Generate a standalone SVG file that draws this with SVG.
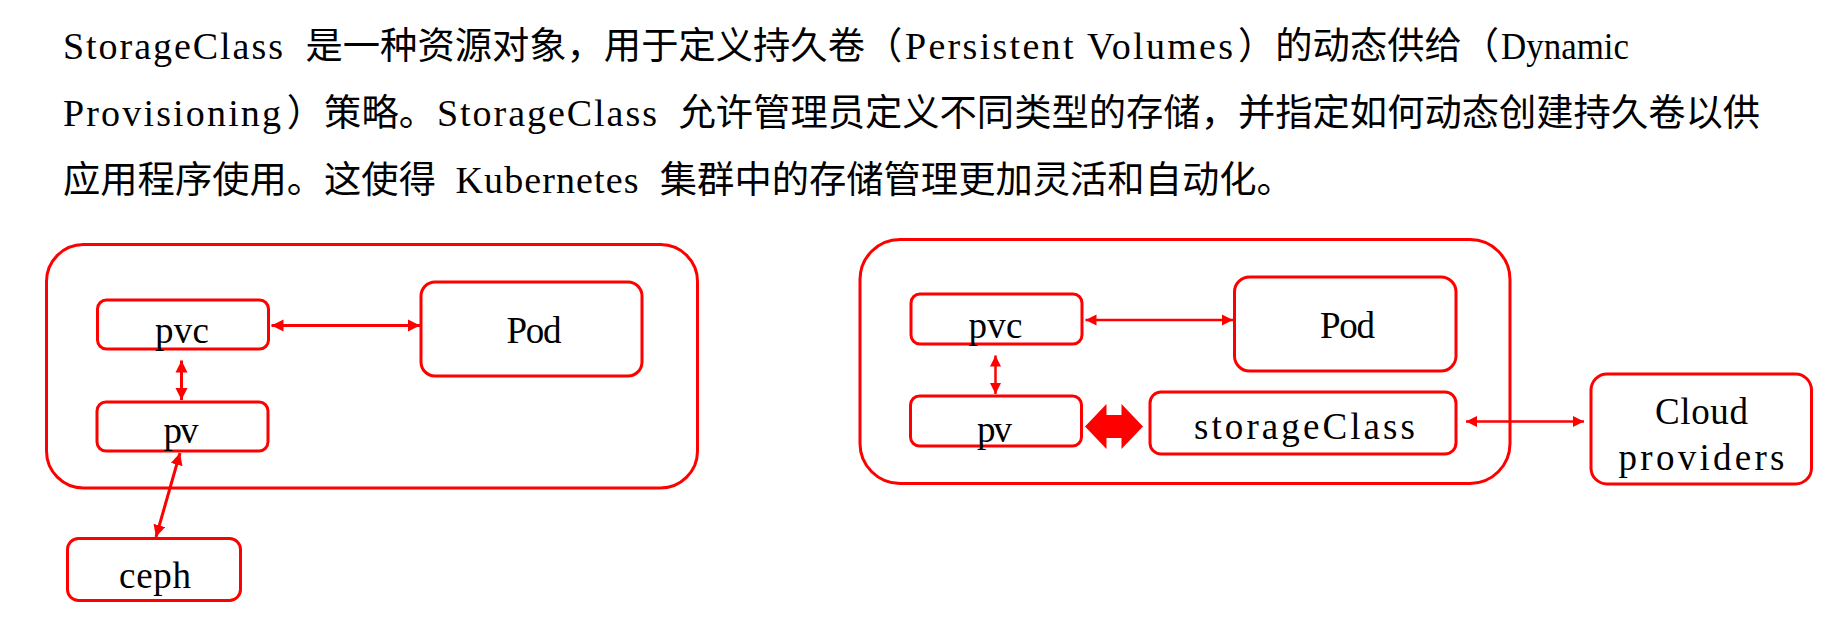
<svg xmlns="http://www.w3.org/2000/svg" width="1836" height="622" viewBox="0 0 1836 622">
<style>
.bg{fill:#ffffff}
.box{fill:none;stroke:#ff0000;stroke-width:3}
.lat{font-family:"Liberation Serif","Noto Sans CJK SC",serif;font-size:38px;fill:#000}
.cjk{font-family:"Noto Sans CJK SC","Noto Sans CJK JP",sans-serif;font-size:37.3px;fill:#000}
.lbl{font-family:"Liberation Serif","Noto Sans CJK SC",serif;font-size:37px;fill:#000;text-anchor:middle}
.conn{stroke:#ff0000;stroke-width:3;fill:none}
.conn2{stroke:#ff0000;stroke-width:2.5;fill:none}
</style>
<defs>
<marker id="ah" markerUnits="userSpaceOnUse" markerWidth="13" markerHeight="13" refX="12" refY="6.5" orient="auto-start-reverse" viewBox="0 0 13 13">
<path d="M0,0.5 L12,6.5 L0,12.5 z" fill="#ff0000"/>
</marker>
<marker id="ah2" markerUnits="userSpaceOnUse" markerWidth="12" markerHeight="12" refX="11" refY="6" orient="auto-start-reverse" viewBox="0 0 12 12">
<path d="M0,0.5 L11,6 L0,11.5 z" fill="#ff0000"/>
</marker>
</defs>
<rect class="bg" x="0" y="0" width="1836" height="622"/>

<g id="paragraph">
<text class="lat" x="63" y="59" textLength="220" lengthAdjust="spacing">StorageClass</text>
<text class="cjk" x="305.5" y="59">是一种资源对象，用于定义持久卷（</text>
<text class="lat" x="905" y="59" textLength="328" lengthAdjust="spacing">Persistent Volumes</text>
<text class="cjk" x="1238" y="59">）的动态供给（</text>
<text class="lat" x="1501" y="59" textLength="128" lengthAdjust="spacingAndGlyphs">Dynamic</text>

<text class="lat" x="63" y="126" textLength="218" lengthAdjust="spacing">Provisioning</text>
<text class="cjk" x="286.8" y="126">）策略。</text>
<text class="lat" x="437" y="126" textLength="220" lengthAdjust="spacing">StorageClass</text>
<text class="cjk" x="678.5" y="126">允许管理员定义不同类型的存储，并指定如何动态创建持久卷以供</text>

<text class="cjk" x="63" y="193">应用程序使用。这使得</text>
<text class="lat" x="455.5" y="193" textLength="183" lengthAdjust="spacing">Kubernetes</text>
<text class="cjk" x="659.8" y="193">集群中的存储管理更加灵活和自动化。</text>
</g>

<g id="cluster-left">
<rect class="box" x="46.5" y="244.5" width="651" height="243.5" rx="37"/>
</g>
<g id="pvc-left">
<rect class="box" x="97.5" y="300" width="171" height="49" rx="9"/>
<text class="lbl" x="182" y="343" textLength="54" lengthAdjust="spacing">pvc</text>
</g>
<g id="pod-left">
<rect class="box" x="421" y="282" width="221" height="94" rx="14"/>
<text class="lbl" x="534" y="342.5" textLength="55" lengthAdjust="spacing">Pod</text>
</g>
<g id="pv-left">
<rect class="box" x="97" y="402" width="171" height="49" rx="9"/>
<text class="lbl" x="181" y="443" textLength="35" lengthAdjust="spacing">pv</text>
</g>
<g id="ceph">
<rect class="box" x="67.5" y="538.5" width="173" height="62" rx="11"/>
<text class="lbl" x="155" y="588" textLength="72" lengthAdjust="spacing">ceph</text>
</g>

<g id="cluster-right">
<rect class="box" x="860" y="239.5" width="650" height="244" rx="40"/>
</g>
<g id="pvc-right">
<rect class="box" x="911" y="294" width="171" height="50" rx="9"/>
<text class="lbl" x="995.5" y="337.5" textLength="54" lengthAdjust="spacing">pvc</text>
</g>
<g id="pod-right">
<rect class="box" x="1234.5" y="277" width="221.5" height="94" rx="15"/>
<text class="lbl" x="1347.5" y="337.5" textLength="55" lengthAdjust="spacing">Pod</text>
</g>
<g id="pv-right">
<rect class="box" x="910.5" y="396" width="171" height="50" rx="9"/>
<text class="lbl" x="994.5" y="441.5" textLength="35" lengthAdjust="spacing">pv</text>
</g>
<g id="storageclass">
<rect class="box" x="1150" y="392" width="306" height="62" rx="11"/>
<text class="lbl" x="1304.5" y="438.5" textLength="221" lengthAdjust="spacing">storageClass</text>
</g>
<g id="cloud-providers">
<rect class="box" x="1591" y="374" width="220.5" height="110" rx="16"/>
<text class="lbl" x="1701.5" y="423.5" textLength="93" lengthAdjust="spacing">Cloud</text>
<text class="lbl" x="1701.5" y="470" textLength="166" lengthAdjust="spacing">providers</text>
</g>

<g id="connectors">
<line class="conn" x1="271.5" y1="325.5" x2="420" y2="325.5" marker-start="url(#ah)" marker-end="url(#ah)"/>
<line class="conn" x1="181.5" y1="360.5" x2="181.5" y2="400" marker-start="url(#ah)" marker-end="url(#ah)"/>
<line class="conn" x1="180" y1="453" x2="156" y2="537" marker-start="url(#ah)" marker-end="url(#ah)"/>
<line class="conn2" x1="1085.5" y1="320" x2="1233" y2="320" marker-start="url(#ah2)" marker-end="url(#ah2)"/>
<line class="conn2" x1="995.5" y1="355.5" x2="995.5" y2="394" marker-start="url(#ah2)" marker-end="url(#ah2)"/>
<line class="conn2" x1="1466" y1="421.5" x2="1584" y2="421.5" marker-start="url(#ah2)" marker-end="url(#ah2)"/>
<polygon points="1085,426.5 1106.5,404 1106.5,415 1121.5,415 1121.5,404 1143,426.5 1121.5,449 1121.5,438 1106.5,438 1106.5,449" fill="#ff0000"/>
</g>
</svg>
